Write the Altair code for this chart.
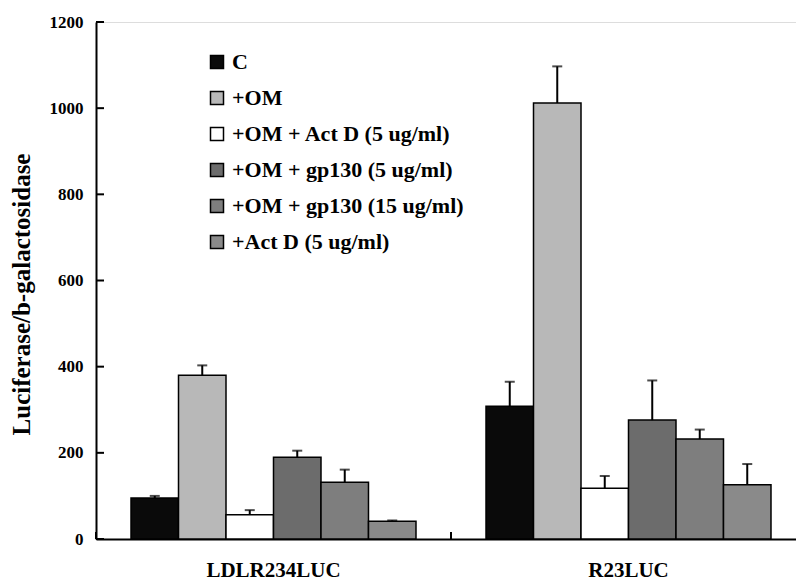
import altair as alt
import pandas as pd

groups = ["LDLR234LUC", "R23LUC"]
treatments = [
    "C",
    "+OM",
    "+OM + Act D (5 ug/ml)",
    "+OM + gp130 (5 ug/ml)",
    "+OM + gp130 (15 ug/ml)",
    "+Act D (5 ug/ml)",
]
ldlr_vals = [95, 380, 56, 190, 132, 41]
ldlr_err = [5, 23, 11, 15, 29, 2]
r23_vals = [308, 1012, 118, 276, 232, 126]
r23_err = [57, 85, 28, 92, 22, 48]
y_ticks = [0, 200, 400, 600, 800, 1000, 1200]
colors = ["#0a0a0a", "#b8b8b8", "#ffffff", "#6c6c6c", "#7e7e7e", "#8a8a8a"]

rows = []
for g, vals, errs in [(groups[0], ldlr_vals, ldlr_err), (groups[1], r23_vals, r23_err)]:
    for t, v, e in zip(treatments, vals, errs):
        rows.append({"group": g, "treatment": t, "value": v, "err": e})
df = pd.DataFrame(rows)
tick_df = pd.DataFrame({"tick": y_ticks})
sep_df = pd.DataFrame({"group": groups})

FONT = "Liberation Serif"

xscale = alt.Scale(domain=groups, range=[0, 710], paddingInner=0, paddingOuter=0)
offscale = alt.Scale(domain=treatments, paddingInner=0, paddingOuter=0.737)
yscale = alt.Scale(domain=[0, 1200], nice=False)

x_enc = alt.X(
    "group:N",
    scale=xscale,
    sort=groups,
    axis=alt.Axis(
        title=None,
        labelAngle=0,
        ticks=False,
        labelFont=FONT,
        labelFontWeight="bold",
        labelFontSize=21,
        labelColor="black",
        labelPadding=20,
        domainColor="black",
        domainWidth=2,
    ),
)
y_enc = alt.Y(
    "value:Q",
    scale=yscale,
    axis=alt.Axis(
        title="Luciferase/b-galactosidase",
        values=y_ticks,
        format="d",
        grid=False,
        ticks=False,
        labelFont=FONT,
        labelFontWeight="bold",
        labelFontSize=17,
        labelColor="black",
        labelPadding=13,
        domainColor="black",
        domainWidth=2,
        titleFont=FONT,
        titleFontWeight="bold",
        titleFontSize=25,
        titleColor="black",
        titlePadding=15,
        titleY=272,
    ),
)

bars = alt.Chart(df).mark_bar(stroke="black", strokeWidth=1.5).encode(
    x=x_enc,
    xOffset=alt.XOffset("treatment:N", scale=offscale, sort=treatments),
    y=y_enc,
    fill=alt.Fill(
        "treatment:N",
        scale=alt.Scale(domain=treatments, range=colors),
        sort=treatments,
        legend=alt.Legend(
            title=None,
            orient="none",
            legendX=110,
            legendY=29,
            padding=0,
            symbolType="square",
            symbolSize=169,
            symbolStrokeColor="black",
            symbolStrokeWidth=1.5,
            labelFont=FONT,
            labelFontWeight="bold",
            labelFontSize=22,
            labelColor="black",
            labelOffset=4,
            labelLimit=0,
            rowPadding=14,
        ),
    ),
)

base_err = alt.Chart(df).transform_calculate(upper="datum.value + datum.err")

err_line = base_err.mark_rule(color="black", strokeWidth=2).encode(
    x=alt.X("group:N", scale=xscale, sort=groups),
    xOffset=alt.XOffset("treatment:N", scale=offscale, sort=treatments),
    y=alt.Y("value:Q", scale=yscale),
    y2="upper:Q",
)
err_cap = base_err.mark_tick(color="black", thickness=2, size=10, orient="horizontal").encode(
    x=alt.X("group:N", scale=xscale, sort=groups),
    xOffset=alt.XOffset("treatment:N", scale=offscale, sort=treatments),
    y=alt.Y("upper:Q", scale=yscale),
)

y_tick_marks = alt.Chart(tick_df).mark_rule(color="black", strokeWidth=2).encode(
    y=alt.Y("tick:Q", scale=yscale),
    x=alt.value(0),
    x2=alt.value(8),
)

sep_ticks = alt.Chart(sep_df).mark_rule(color="black", strokeWidth=2).encode(
    x=alt.X("group:N", scale=xscale, sort=groups, bandPosition=0),
    y=alt.value(510),
    y2=alt.value(517),
)

chart = (
    alt.layer(bars, err_line, err_cap, y_tick_marks, sep_ticks)
    .properties(
        width=700,
        height=517,
        autosize=alt.AutoSizeParams(type="none"),
        padding={"left": 88, "top": 14, "right": 0, "bottom": 46},
    )
    .configure_view(stroke=None)
    .configure(background="white")
)

chart.save("out.html", embed_options={"renderer": "svg", "actions": False})
